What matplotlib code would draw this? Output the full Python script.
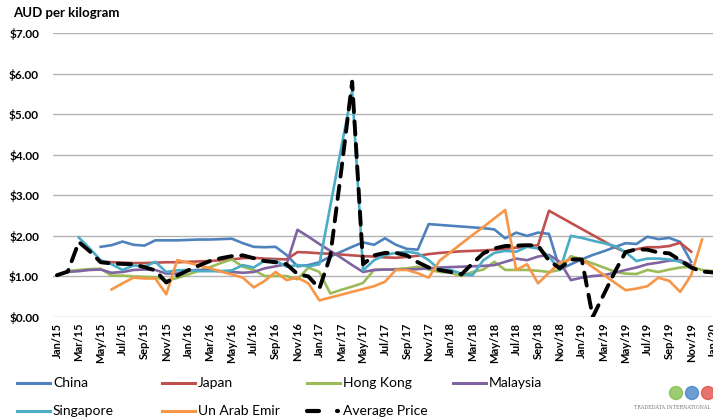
import numpy as np
import matplotlib
matplotlib.use("Agg")
import matplotlib.pyplot as plt
from matplotlib.lines import Line2D
from matplotlib.patches import Circle
from matplotlib.transforms import IdentityTransform

plt.rcParams['font.family'] = ['Lato', 'DejaVu Sans']

# Dados: mensal, Jan/15 .. Jan/20 (None = sem valor)
meses = ["Jan", "Feb", "Mar", "Apr", "May", "Jun", "Jul", "Aug", "Sep", "Oct", "Nov", "Dec"]
rotulos = [f"{m}/{a}" for a in range(15, 20) for m in meses] + ["Jan/20"]

N = None
china = [N, N, N, N, 1.73, 1.77, 1.86, 1.78, 1.76, 1.89, 1.89, 1.89,
         1.90, 1.91, 1.91, 1.92, 1.93, 1.82, 1.73, 1.72, 1.73, 1.53, 1.25, 1.28,
         1.35, 1.49, 1.61, 1.73, 1.84, 1.78, 1.94, 1.78, 1.68, 1.66, 2.29, 2.27,
         2.25, 2.23, 2.21, 2.19, 2.16, 1.94, 2.08, 2.00, 2.08, 2.05, 1.17, 1.30,
         1.42, 1.53, 1.62, 1.72, 1.82, 1.80, 1.98, 1.92, 1.95, 1.85, 1.36, N, N]
japan = [N, N, N, N, 1.37, 1.35, 1.34, 1.33, 1.33, 1.34, 1.35, 1.35,
         1.36, 1.37, 1.38, 1.40, 1.42, 1.45, 1.46, 1.44, 1.43, 1.42, 1.60, 1.59,
         1.57, 1.56, 1.54, 1.52, 1.50, 1.49, 1.47, 1.46, 1.48, 1.51, 1.55, 1.58,
         1.60, 1.62, 1.63, 1.64, 1.66, 1.68, 1.71, 1.74, 1.77, 2.62, 2.47, 2.32,
         2.17, 2.02, 1.87, 1.72, 1.60, 1.67, 1.72, 1.72, 1.75, 1.83, 1.61, N, N]
hong_kong = [N, 1.13, 1.16, 1.18, 1.19, 1.02, 1.02, 1.00, 0.99, 0.98, 0.90, 0.96,
             1.05, 1.14, 1.23, 1.33, 1.42, 1.24, 1.16, 1.01, 1.01, 1.01, 0.93, 1.22,
             1.11, 0.58, 0.67, 0.75, 0.84, 1.16, 1.17, 1.18, 1.20, 1.24, 1.17, 1.11,
             1.09, 1.01, 1.11, 1.17, 1.36, 1.16, 1.16, 1.16, 1.14, 1.11, 1.16, 1.50,
             1.42, 1.32, 1.22, 1.12, 1.07, 1.06, 1.16, 1.11, 1.17, 1.22, 1.24, 1.16, 1.13]
malaysia = [N, 1.11, 1.13, 1.16, 1.17, 1.09, 1.11, 1.16, 1.17, 1.16, 1.07, 1.07,
            1.15, 1.16, 1.15, 1.13, 1.11, 1.09, 1.11, 1.20, 1.25, 1.30, 2.15, 1.98,
            1.80, 1.63, 1.46, 1.28, 1.11, 1.16, 1.17, 1.17, 1.17, 1.18, 1.20, 1.22,
            1.23, 1.24, 1.25, 1.26, 1.28, 1.36, 1.44, 1.40, 1.49, 1.53, 1.36, 0.91,
            0.97, 1.01, 1.03, 1.09, 1.16, 1.22, 1.30, 1.34, 1.39, 1.40, 1.28, N, N]
singapore = [N, N, 1.96, 1.69, 1.40, 1.30, 1.16, 1.27, 1.24, 1.36, 1.11, 1.15,
             1.16, 1.13, 1.13, 1.13, 1.15, 1.28, 1.22, 1.39, 1.39, 1.24, 1.28, 1.25,
             1.30, 2.73, 4.17, 5.57, 1.15, 1.40, 1.53, 1.58, 1.61, 1.57, 1.40, 1.17,
             1.16, 1.07, 1.03, 1.40, 1.58, 1.63, 1.61, 1.73, 1.69, 1.49, 1.16, 2.00,
             1.95, 1.88, 1.82, 1.75, 1.60, 1.38, 1.44, 1.44, 1.42, 1.36, 1.22, N, N]
uae = [N, N, N, N, N, 0.68, 0.83, 0.97, 0.95, 0.95, 0.56, 1.40,
       1.34, 1.27, 1.20, 1.12, 1.05, 0.97, 0.73, 0.89, 1.11, 0.91, 0.97, 0.83,
       0.41, 0.48, 0.55, 0.62, 0.69, 0.76, 0.87, 1.16, 1.16, 1.08, 0.97, 1.39,
       1.60, 1.81, 2.02, 2.22, 2.43, 2.64, 1.16, 1.30, 0.83, 1.09, 1.34, 1.42,
       1.42, 1.23, 1.04, 0.85, 0.66, 0.70, 0.76, 0.97, 0.89, 0.62, 1.03, 1.91, N]
media = [1.03, 1.12, 1.85, 1.62, 1.35, 1.32, 1.31, 1.30, 1.23, 1.15, 0.85, 1.02,
         1.15, 1.27, 1.38, 1.45, 1.50, 1.52, 1.45, 1.38, 1.35, 1.30, 1.06, 1.00,
         0.70, 1.50, 3.60, 5.80, 1.30, 1.52, 1.58, 1.58, 1.52, 1.35, 1.22, 1.16,
         1.11, 1.05, 1.32, 1.57, 1.69, 1.75, 1.76, 1.77, 1.76, 1.39, 1.20, 1.42,
         1.42, 0.00, 0.55, 1.10, 1.60, 1.67, 1.66, 1.59, 1.57, 1.40, 1.22, 1.12, 1.10]

series = ["China", "Japan", "Hong Kong", "Malaysia", "Singapore", "Un Arab Emir"]
valores = [china, japan, hong_kong, malaysia, singapore, uae]
cores = ["#4F81BD", "#C0504D", "#9BBB59", "#8064A2", "#4BACC6", "#F79646"]

x = np.arange(len(rotulos))

fig = plt.figure(figsize=(7.13, 4.19), dpi=100)
ax = fig.add_axes([0.0743, 0.2434, 0.9257, 0.6778])

for nome, vals, cor in zip(series, valores, cores):
    y = np.array([np.nan if v is None else v for v in vals])
    ax.plot(x, y, color=cor, lw=1.9, label=nome, zorder=3)

ax.plot(x, media, color="black", lw=2.8, dashes=(3.4, 2.4), dash_capstyle="round",
        label="Average Price", zorder=4)

# Eixos
ax.set_xlim(-0.36, 59.64)
ax.set_ylim(0, 7)
ax.set_yticks(range(0, 8))
ax.set_yticklabels([f"${v:.2f}" for v in range(0, 8)], fontweight="bold", fontsize=8.5)
ax.set_xticks(x[::2])
ax.set_xticklabels(rotulos[::2], rotation=90, fontweight="bold", fontsize=8)
ax.tick_params(axis="both", length=0)
ax.tick_params(axis="y", pad=10)
ax.tick_params(axis="x", pad=4)
ax.grid(axis="y", color="#B3B3B3", lw=1.0)
ax.set_axisbelow(True)
for s in ax.spines.values():
    s.set_visible(False)

fig.text(13 / 713, 1 - 13 / 419, "AUD per kilogram", fontweight="bold", fontsize=9.5,
         va="center", ha="left")

# Legenda feita a mao (colunas iguais como no Excel)
W, H = 713, 419
posicoes = [(17, 383), (162, 383), (307, 383), (453, 383), (17, 411), (162, 411), (307, 411)]
nomes_leg = series + ["Average Price"]
cores_leg = cores + ["black"]
for (px, py), nome, cor in zip(posicoes, nomes_leg, cores_leg):
    yy = 1 - py / H
    if nome == "Average Price":
        fig.add_artist(Line2D([px / W, (px + 12) / W], [yy, yy], color="black", lw=3.0,
                              solid_capstyle="round"))
        fig.add_artist(Line2D([(px + 30) / W, (px + 31) / W], [yy, yy], color="black", lw=3.0,
                              solid_capstyle="round"))
    else:
        fig.add_artist(Line2D([px / W, (px + 33) / W], [yy, yy], color=cor, lw=2.2))
    fig.text((px + 36) / W, yy, nome, fontsize=10, va="center", ha="left")

# Logo TradeData (coordenadas em pixels)
for cx, cor in zip([676, 692, 708], ["#7DBB42", "#3C7DC4", "#E0463C"]):
    fig.add_artist(Circle((cx, H - 393), 6.5, transform=IdentityTransform(),
                          color=cor, alpha=0.75))
fig.text(710 / W, 1 - 407 / H, "TRADEDATA INTERNATIONAL", fontsize=3.4, color="#777777",
         family="DejaVu Serif", va="center", ha="right")

fig.savefig("out.png", dpi=100)
